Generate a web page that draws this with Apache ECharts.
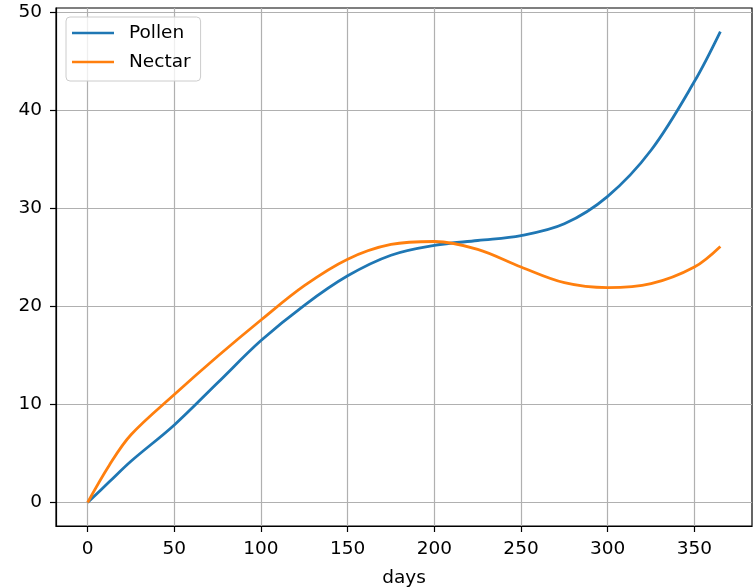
<!DOCTYPE html>
<html>
<head>
<meta charset="utf-8">
<script src="https://cdn.jsdelivr.net/npm/echarts@6/dist/echarts.min.js"></script>
<style>
  html, body { margin: 0; padding: 0; background: #fff; }
  #chart { width: 754px; height: 588px; }
</style>
</head>
<body>
<div id="chart"></div>
<script>
// values
const days = [0, 12.5, 25, 50, 75, 100, 125, 150, 175, 200, 225, 250, 275, 300, 325, 350, 365];
const pollen = [0, 2.1, 4.2, 7.9, 12.2, 16.5, 20.1, 23.1, 25.2, 26.2, 26.7, 27.2, 28.4, 31.2, 35.9, 42.9, 48.0];
const nectar = [0, 3.8, 6.9, 11.0, 14.9, 18.6, 22.1, 24.8, 26.3, 26.6, 25.8, 24.0, 22.4, 21.9, 22.3, 24.0, 26.1];
const xTicks = [0, 50, 100, 150, 200, 250, 300, 350];
const yTicks = [0, 10, 20, 30, 40, 50];

const font = "DejaVu Sans";
const fontSize = 18.5;

const toPairs = (xs, ys) => xs.map((d, i) => [d, ys[i]]);

const chart = echarts.init(document.getElementById("chart"));

const option = {
  animation: false,
  textStyle: { fontFamily: font },
  grid: {
    left: 56,
    right: 2,
    top: 8,
    bottom: 62,
    outerBoundsMode: "none",
    show: true,
    borderColor: "#000",
    borderWidth: 1.2,
  },
  legend: {
    orient: "vertical",
    left: 66,
    top: 17,
    padding: [5, 10, 8, 6],
    icon: "rect",
    itemWidth: 42,
    itemHeight: 2.5,
    itemGap: 7,
    backgroundColor: "rgba(255,255,255,0.8)",
    borderColor: "#cccccc",
    borderWidth: 1,
    borderRadius: 4,
    textStyle: {
      fontFamily: font,
      fontSize: fontSize,
      lineHeight: 22,
      color: "#000",
      padding: [0, 0, 0, 10],
    },
    data: ["Pollen", "Nectar"],
  },
  xAxis: {
    type: "value",
    min: -18.25,
    max: 383.25,
    interval: 50,
    name: "days",
    nameLocation: "middle",
    nameGap: 43,
    nameTextStyle: { fontFamily: font, fontSize: fontSize, color: "#000" },
    axisLine: { show: true, onZero: false, lineStyle: { color: "#000", width: 1.2 } },
    axisTick: { show: true, length: 6, lineStyle: { color: "#000", width: 1.2 }, customValues: xTicks },
    axisLabel: {
      margin: 14,
      fontSize: fontSize,
      color: "#000",
      customValues: xTicks,
    },
    splitLine: { show: true, lineStyle: { color: "#b0b0b0", width: 1.2 } },
  },
  yAxis: {
    type: "value",
    min: -2.4,
    max: 50.4,
    interval: 10,
    axisLine: { show: true, onZero: false, lineStyle: { color: "#000", width: 1.2 } },
    axisTick: { show: true, length: 6, lineStyle: { color: "#000", width: 1.2 }, customValues: yTicks },
    axisLabel: {
      margin: 14,
      fontSize: fontSize,
      color: "#000",
      customValues: yTicks,
    },
    splitLine: { show: true, lineStyle: { color: "#b0b0b0", width: 1.2 } },
  },
  series: [
    {
      name: "Pollen",
      type: "line",
      data: toPairs(days, pollen),
      smooth: 0.35,
      symbol: "none",
      color: "#1f77b4",
      lineStyle: { width: 2.8 },
    },
    {
      name: "Nectar",
      type: "line",
      data: toPairs(days, nectar),
      smooth: 0.35,
      symbol: "none",
      color: "#ff7f0e",
      lineStyle: { width: 2.8 },
    },
  ],
};

chart.setOption(option);
</script>
</body>
</html>
